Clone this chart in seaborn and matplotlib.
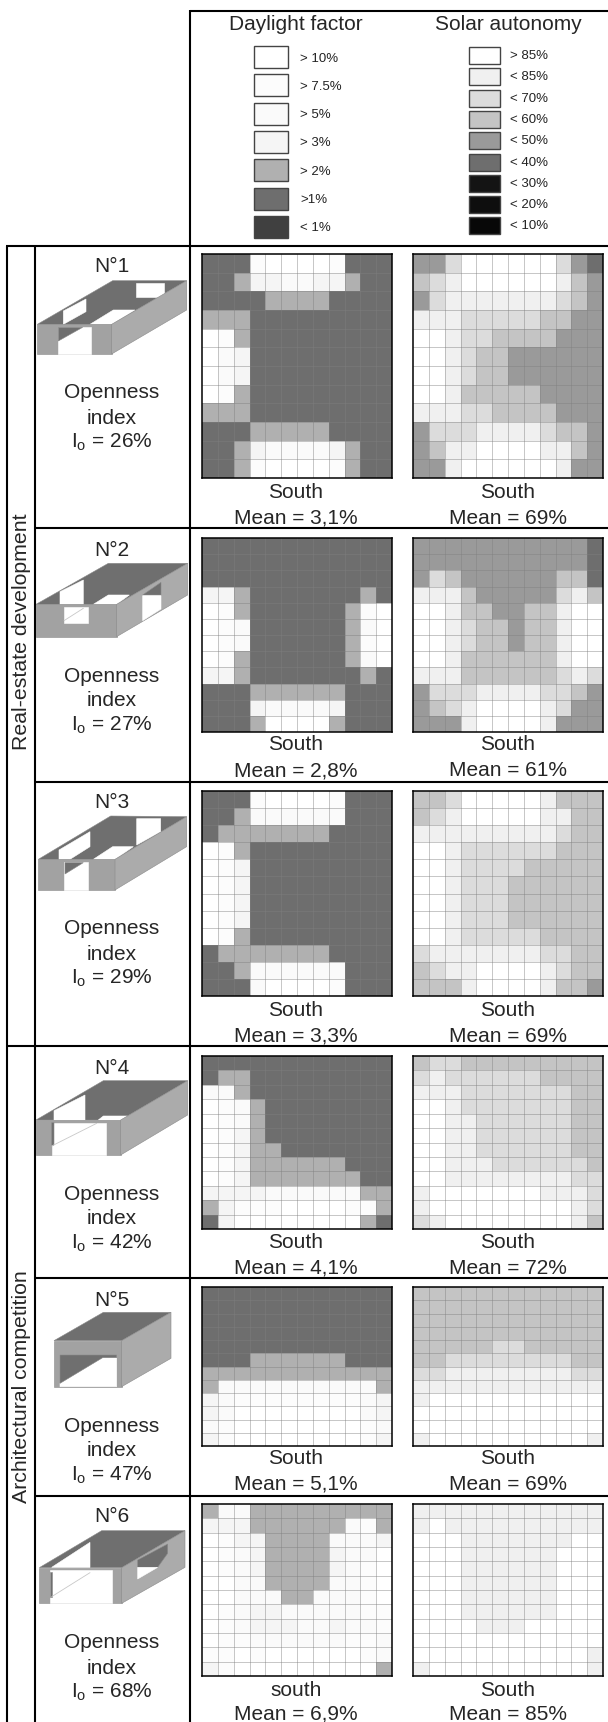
import numpy as np
import seaborn as sns
import matplotlib.pyplot as plt
from matplotlib.colors import ListedColormap
from matplotlib.patches import Polygon, Rectangle

# legend classes, lightest first
df_labels = ["> 10%", "> 7.5%", "> 5%", "> 3%", "> 2%", ">1%", "< 1%"]
df_colors = ["#ffffff", "#fcfcfc", "#fafafa", "#f5f5f5", "#b0b0b0", "#6e6e6e", "#404040"]
sa_labels = ["> 85%", "< 85%", "< 70%", "< 60%", "< 50%", "< 40%", "< 30%", "< 20%", "< 10%"]
sa_colors = ["#ffffff", "#f0f0f0", "#dcdcdc", "#c4c4c4", "#9a9a9a", "#6e6e6e", "#141414", "#0e0e0e", "#080808"]

# class index of each cell (first row = north)
df_1 = [[5,5,5,1,0,0,0,0,1,5,5,5],
        [5,5,4,3,3,2,2,3,3,4,5,5],
        [5,5,5,5,4,4,4,4,5,5,5,5],
        [4,4,4,5,5,5,5,5,5,5,5,5],
        [0,1,4,5,5,5,5,5,5,5,5,5],
        [0,2,3,5,5,5,5,5,5,5,5,5],
        [0,2,3,5,5,5,5,5,5,5,5,5],
        [0,1,4,5,5,5,5,5,5,5,5,5],
        [4,4,4,5,5,5,5,5,5,5,5,5],
        [5,5,5,4,4,4,4,4,5,5,5,5],
        [5,5,4,3,2,2,2,2,3,4,5,5],
        [5,5,4,1,0,0,0,0,1,4,5,5]]
sa_1 = [[4,4,2,0,0,0,0,0,0,2,4,5],
        [3,2,1,0,0,0,0,0,0,1,3,4],
        [4,2,1,1,1,1,1,1,1,2,3,4],
        [1,1,1,2,2,2,2,2,3,3,4,4],
        [0,0,1,2,2,3,3,3,3,4,4,4],
        [0,0,1,2,3,3,4,4,4,4,4,4],
        [0,0,1,2,3,3,4,4,4,4,4,4],
        [0,0,1,3,3,3,3,3,4,4,4,4],
        [1,1,1,2,2,3,3,3,3,4,4,4],
        [4,2,2,2,1,1,1,1,2,3,3,4],
        [4,3,1,1,0,0,0,0,1,1,3,4],
        [4,4,1,0,0,0,0,0,0,1,4,4]]
df_2 = [[5,5,5,5,5,5,5,5,5,5,5,5],
        [5,5,5,5,5,5,5,5,5,5,5,5],
        [5,5,5,5,5,5,5,5,5,5,5,5],
        [3,3,4,5,5,5,5,5,5,5,4,5],
        [0,1,4,5,5,5,5,5,5,4,1,0],
        [0,1,2,5,5,5,5,5,5,4,2,0],
        [0,1,2,5,5,5,5,5,5,4,1,0],
        [0,1,4,5,5,5,5,5,5,4,2,0],
        [3,3,4,5,5,5,5,5,5,5,4,5],
        [5,5,5,4,4,4,4,4,4,5,5,5],
        [5,5,5,3,2,2,2,2,3,5,5,5],
        [5,5,5,4,0,0,0,0,4,5,5,5]]
sa_2 = [[4,4,4,4,4,4,4,4,4,4,4,5],
        [4,4,4,4,4,4,4,4,4,4,4,5],
        [4,2,3,4,4,4,4,4,4,3,3,5],
        [1,1,1,3,4,4,4,4,4,2,1,3],
        [0,0,1,3,3,4,4,3,3,1,0,0],
        [0,0,1,2,3,3,4,3,3,1,0,0],
        [0,0,1,2,3,3,4,3,3,1,0,0],
        [0,0,1,3,3,3,3,3,3,1,0,0],
        [1,1,1,3,3,3,3,3,3,2,1,2],
        [4,2,2,2,1,1,1,1,2,2,3,4],
        [4,3,2,1,0,0,0,0,1,2,4,4],
        [4,4,4,1,0,0,0,0,1,4,4,4]]
df_3 = [[5,5,5,1,0,0,0,0,1,5,5,5],
        [5,5,4,2,2,2,2,2,2,5,5,5],
        [5,4,4,4,4,4,4,4,5,5,5,5],
        [0,1,4,5,5,5,5,5,5,5,5,5],
        [0,1,3,5,5,5,5,5,5,5,5,5],
        [0,1,3,5,5,5,5,5,5,5,5,5],
        [0,1,3,5,5,5,5,5,5,5,5,5],
        [0,1,3,5,5,5,5,5,5,5,5,5],
        [0,1,4,5,5,5,5,5,5,5,5,5],
        [5,4,4,4,4,4,4,4,5,5,5,5],
        [5,5,4,2,2,2,2,2,2,5,5,5],
        [5,5,5,2,0,0,0,0,1,5,5,5]]
sa_3 = [[3,3,2,0,0,0,0,0,1,3,3,3],
        [3,2,1,0,0,0,0,0,1,1,3,3],
        [1,1,1,1,1,1,1,1,1,2,3,3],
        [0,0,1,2,2,2,2,2,2,3,3,3],
        [0,0,1,2,2,2,2,3,3,3,3,3],
        [0,0,1,2,2,2,3,3,3,3,3,3],
        [0,0,1,2,2,2,3,3,3,3,3,3],
        [0,0,1,2,2,2,3,3,3,3,3,3],
        [0,0,1,2,2,2,2,2,3,3,3,3],
        [2,1,1,1,1,1,1,1,2,2,3,3],
        [3,2,1,1,0,0,0,0,1,2,3,3],
        [3,3,3,1,0,0,0,0,1,3,3,4]]
df_4 = [[5,5,5,5,5,5,5,5,5,5,5,5],
        [5,4,4,5,5,5,5,5,5,5,5,5],
        [2,2,4,5,5,5,5,5,5,5,5,5],
        [0,1,2,4,5,5,5,5,5,5,5,5],
        [0,1,2,4,5,5,5,5,5,5,5,5],
        [0,1,3,4,5,5,5,5,5,5,5,5],
        [0,1,3,4,4,5,5,5,5,5,5,5],
        [0,1,3,4,4,4,4,4,4,5,5,5],
        [0,1,3,4,4,4,4,4,4,4,5,5],
        [3,3,3,3,2,2,2,2,2,2,4,4],
        [4,3,1,1,1,0,0,0,0,1,1,4],
        [5,3,0,0,0,0,0,0,0,0,4,5]]
sa_4 = [[3,2,2,3,3,3,3,3,3,3,3,3],
        [2,1,2,2,2,2,2,2,3,3,3,3],
        [1,1,1,2,2,2,2,2,2,2,3,3],
        [0,0,1,2,2,2,2,2,2,2,3,3],
        [0,0,1,1,2,2,2,2,2,2,3,3],
        [0,0,1,1,2,2,2,2,2,2,3,3],
        [0,0,1,1,2,2,2,2,2,2,3,3],
        [0,0,1,1,1,2,2,2,2,2,2,3],
        [0,0,1,1,1,1,1,1,1,1,2,2],
        [1,0,0,0,0,0,0,0,1,1,1,2],
        [1,0,0,0,0,0,0,0,0,0,1,2],
        [2,1,0,0,0,0,0,0,0,0,1,3]]
df_5 = [[5,5,5,5,5,5,5,5,5,5,5,5],
        [5,5,5,5,5,5,5,5,5,5,5,5],
        [5,5,5,5,5,5,5,5,5,5,5,5],
        [5,5,5,5,5,5,5,5,5,5,5,5],
        [5,5,5,5,5,5,5,5,5,5,5,5],
        [5,5,5,4,4,4,4,4,4,5,5,5],
        [4,4,4,4,4,4,4,4,4,4,4,4],
        [4,2,2,2,2,2,2,2,2,2,2,4],
        [3,2,1,1,1,1,1,1,1,1,2,3],
        [3,2,0,0,0,0,0,0,0,0,2,3],
        [2,1,0,0,0,0,0,0,0,0,1,2],
        [3,1,0,0,0,0,0,0,0,0,1,3]]
sa_5 = [[3,3,3,3,3,3,3,3,3,3,3,3],
        [3,3,3,3,3,3,3,3,3,3,3,3],
        [3,3,3,3,3,3,3,3,3,3,3,3],
        [3,3,3,3,3,3,3,3,3,3,3,3],
        [3,3,3,3,3,2,2,3,3,3,3,3],
        [3,3,2,2,2,2,2,2,2,2,3,3],
        [2,2,1,1,1,1,1,1,1,1,2,2],
        [1,1,1,1,1,1,1,1,1,1,1,1],
        [1,0,0,0,0,0,0,0,0,0,0,0],
        [0,0,0,0,0,0,0,0,0,0,0,0],
        [0,0,0,0,0,0,0,0,0,0,0,0],
        [1,0,0,0,0,0,0,0,0,0,0,1]]
df_6 = [[4,2,2,4,4,4,4,4,4,4,4,4],
        [3,3,3,4,4,4,4,4,4,2,1,4],
        [0,1,3,3,4,4,4,4,2,2,2,3],
        [0,1,2,3,4,4,4,4,3,2,2,0],
        [0,1,2,3,4,4,4,4,3,2,1,0],
        [0,0,2,2,4,4,4,4,2,2,1,0],
        [0,0,2,2,2,4,4,2,2,2,1,0],
        [0,1,2,3,3,2,2,2,2,2,1,1],
        [0,1,2,3,3,3,2,2,3,2,2,1],
        [0,1,1,2,2,2,2,2,2,1,1,2],
        [1,1,0,1,0,0,0,0,0,0,1,2],
        [3,1,0,0,0,0,0,0,0,0,0,4]]
sa_6 = [[1,1,1,1,1,1,1,1,1,1,1,1],
        [1,0,1,1,1,1,1,1,1,1,1,1],
        [0,0,0,1,1,1,1,1,1,1,0,0],
        [0,0,0,1,1,1,1,1,1,0,0,0],
        [0,0,0,1,1,1,1,1,1,0,0,0],
        [0,0,0,1,1,1,1,1,1,0,0,0],
        [0,0,0,1,1,1,1,1,1,0,0,0],
        [0,0,0,1,1,1,1,1,1,0,0,0],
        [0,0,0,0,1,1,1,0,0,0,0,0],
        [0,0,0,0,0,0,0,0,0,0,0,0],
        [0,0,0,0,0,0,0,0,0,0,0,1],
        [1,0,0,0,0,0,0,0,0,0,0,1]]
df_maps = [df_1, df_2, df_3, df_4, df_5, df_6]
sa_maps = [sa_1, sa_2, sa_3, sa_4, sa_5, sa_6]

names = ["N°1", "N°2", "N°3", "N°4", "N°5", "N°6"]
openness = ["26%", "27%", "29%", "42%", "47%", "68%"]
df_means = ["3,1%", "2,8%", "3,3%", "4,1%", "5,1%", "6,9%"]
sa_means = ["69%", "61%", "69%", "72%", "69%", "85%"]
df_south = ["South", "South", "South", "South", "South", "south"]

# layout in pixels of the 608x1722 picture
W, H = 608, 1722
map_tops = [254, 538, 791, 1056, 1287, 1504]
map_bottoms = [478, 732, 996, 1229, 1446, 1676]
df_x = (202, 392)
sa_x = (413, 603)
name_y = [266, 550, 803, 1068, 1300, 1517]
open_y = [393, 676, 929, 1194, 1426, 1643]
south_y = [492, 745, 1010, 1242, 1459, 1690]
mean_y = [518, 771, 1036, 1268, 1484, 1714]

DARK, FRONT, SIDE, WHITE = "#6f6f6f", "#a2a2a2", "#ababab", "#ffffff"

# the six sketches: (colour, outline) with the outline in 3x pixels, plus the y origin
sketches = [
    (240, [(DARK, [(112,253),(338,122),(560,122),(335,253)]),
           (WHITE, [(270,253),(340,210),(405,210),(335,253)]),
           (WHITE, [(190,213),(258,177),(258,215),(190,253)]),
           (WHITE, [(408,130),(492,130),(492,172),(408,172)]),
           (FRONT, [(112,253),(335,253),(335,342),(112,342)]),
           (SIDE, [(335,253),(560,122),(560,210),(335,342)]),
           (WHITE, [(175,260),(272,260),(272,342),(175,342)]),
           (DARK, [(175,262),(248,262),(175,303)])]),
    (530, [(DARK, [(108,223),(325,100),(563,100),(350,223)]),
           (WHITE, [(280,223),(325,195),(388,195),(350,223)]),
           (WHITE, [(180,185),(250,150),(250,223),(180,223)]),
           (FRONT, [(108,223),(350,223),(350,320),(108,320)]),
           (SIDE, [(350,223),(563,100),(563,195),(350,320)]),
           (WHITE, [(192,232),(265,232),(265,280),(192,280)]),
           (DARK, [(428,195),(483,157),(483,195)]),
           (WHITE, [(428,197),(483,197),(483,237),(428,272)])]),
    (790, [(DARK, [(115,208),(332,78),(560,80),(345,208)]),
           (WHITE, [(280,208),(338,170),(400,170),(345,208)]),
           (WHITE, [(177,180),(270,125),(270,170),(210,208),(177,208)]),
           (WHITE, [(410,86),(482,86),(482,125),(410,165)]),
           (FRONT, [(115,208),(345,208),(345,300),(115,300)]),
           (SIDE, [(345,208),(560,80),(560,170),(345,300)]),
           (WHITE, [(193,215),(265,215),(265,300),(193,300)]),
           (DARK, [(195,218),(250,218),(195,252)])]),
    (1040, [(DARK, [(108,240),(310,122),(563,122),(362,240)]),
            (WHITE, [(295,240),(310,228),(382,228),(362,240)]),
            (WHITE, [(162,212),(255,165),(255,240),(162,240)]),
            (FRONT, [(108,240),(362,240),(362,345),(108,345)]),
            (SIDE, [(362,240),(563,122),(563,225),(362,345)]),
            (WHITE, [(155,248),(318,248),(318,345),(155,345)]),
            (DARK, [(155,248),(162,248),(162,315),(155,318)])]),
    (1040, [(DARK, [(162,902),(310,817),(513,817),(365,902)]),
            (FRONT, [(162,902),(365,902),(365,1040),(162,1040)]),
            (SIDE, [(365,902),(513,817),(513,955),(365,1040)]),
            (WHITE, [(180,1030),(308,953),(350,953),(350,1040),(180,1040)]),
            (DARK, [(180,945),(350,945),(350,953),(308,953),(180,1030)])]),
    (1480, [(DARK, [(118,263),(305,152),(555,152),(365,263)]),
            (WHITE, [(155,262),(270,187),(270,262)]),
            (FRONT, [(118,263),(365,263),(365,370),(118,370)]),
            (SIDE, [(365,263),(555,152),(555,262),(365,370)]),
            (WHITE, [(150,270),(335,270),(335,370),(150,370)]),
            (DARK, [(150,275),(155,275),(155,350),(150,350)]),
            (DARK, [(413,240),(503,192),(503,220),(473,262),(413,262)]),
            (WHITE, [(413,262),(473,262),(413,297)])]),
]
# thin see-through edges across the openings, same 3x pixels
sketch_lines = [
    (530, [(192,272),(250,235)]),
    (1040, [(155,318),(290,250)]),
    (1480, [(155,350),(270,278)]),
]

sns.set_theme(style="white")
plt.rcParams["font.family"] = ["Liberation Sans", "DejaVu Sans"]
plt.rcParams["mathtext.default"] = "regular"

fig = plt.figure(figsize=(W / 100, H / 100), dpi=100, facecolor="white")


def draw_map(values, colors, xr, top, bottom):
    ax = fig.add_axes([xr[0] / W, 1 - bottom / H, (xr[1] - xr[0]) / W, (bottom - top) / H])
    cmap = ListedColormap(colors)
    sns.heatmap(np.array(values), ax=ax, cmap=cmap, vmin=-0.5, vmax=len(colors) - 0.5,
                cbar=False, xticklabels=False, yticklabels=False)
    # thin see-through grid, it stays visible on the dark cells
    for i in range(1, 12):
        ax.axvline(i, color="#808080", lw=0.7, alpha=0.45)
        ax.axhline(i, color="#808080", lw=0.7, alpha=0.45)
    for s in ax.spines.values():
        s.set_visible(True)
        s.set_color("black")
        s.set_linewidth(1.1)


for i in range(6):
    draw_map(df_maps[i], df_colors, df_x, map_tops[i], map_bottoms[i])
    draw_map(sa_maps[i], sa_colors, sa_x, map_tops[i], map_bottoms[i])

# everything else goes on one page axes in pixel coordinates
page = fig.add_axes([0, 0, 1, 1], facecolor="none")
page.set_xlim(0, W)
page.set_ylim(H, 0)
page.axis("off")

# table rules
rule = dict(color="black", lw=1.5, solid_capstyle="butt")
page.plot([190, 190], [10, H], **rule)
page.plot([190, W], [11, 11], **rule)
page.plot([6, W], [246, 246], **rule)
page.plot([7, 7], [246, H], **rule)
page.plot([35, 35], [246, H], **rule)
page.plot([7, W], [1046, 1046], **rule)
for y in [528, 782, 1278, 1496]:
    page.plot([35, W], [y, y], **rule)

# legends
page.text(296, 25, "Daylight factor", ha="center", va="center", fontsize=15)
page.text(508, 25, "Solar autonomy", ha="center", va="center", fontsize=15)
for i, (lab, col) in enumerate(zip(df_labels, df_colors)):
    y = 46 + i * 28.3
    page.add_patch(Rectangle((254, y), 34, 22, fc=col, ec="#444444", lw=1))
    page.text(300, y + 12.5, lab, va="center", fontsize=9.5, color="#222222")
for i, (lab, col) in enumerate(zip(sa_labels, sa_colors)):
    y = 47 + i * 21.3
    page.add_patch(Rectangle((469, y), 31, 17, fc=col, ec="#444444", lw=1))
    page.text(510, y + 9, lab, va="center", fontsize=9.5, color="#222222")

# group labels
page.text(22, 632, "Real-estate development", rotation=90, ha="center", va="center", fontsize=15.3)
page.text(22, 1387, "Architectural competition", rotation=90, ha="center", va="center", fontsize=15.3)

# left column and captions
for i in range(6):
    page.text(112, name_y[i], names[i], ha="center", va="center", fontsize=15)
    page.text(112, open_y[i], "Openness", ha="center", va="center", fontsize=15)
    page.text(112, open_y[i] + 25, "index", ha="center", va="center", fontsize=15)
    page.text(112, open_y[i] + 49, "I$_o$ = " + openness[i], ha="center", va="center", fontsize=15)
    page.text(296, south_y[i], df_south[i], ha="center", va="center", fontsize=15)
    page.text(296, mean_y[i], "Mean = " + df_means[i], ha="center", va="center", fontsize=15)
    page.text(508, south_y[i], "South", ha="center", va="center", fontsize=15)
    page.text(508, mean_y[i], "Mean = " + sa_means[i], ha="center", va="center", fontsize=15)

# building sketches
for y0, shapes in sketches:
    for col, outline in shapes:
        pts = [(x / 3, y0 + y / 3) for x, y in outline]
        ec = WHITE if col == WHITE else "#8a8a8a"
        page.add_patch(Polygon(pts, closed=True, fc=col, ec=ec, lw=0.4))
for y0, (p, q) in sketch_lines:
    page.plot([p[0] / 3, q[0] / 3], [y0 + p[1] / 3, y0 + q[1] / 3], color="#c8c8c8", lw=0.6)

fig.savefig("out.png", dpi=100)
